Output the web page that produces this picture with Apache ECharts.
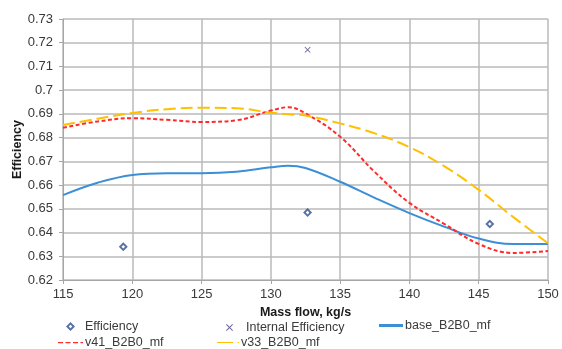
<!DOCTYPE html>
<html>
<head>
<meta charset="utf-8">
<script src="https://cdn.jsdelivr.net/npm/echarts@6/dist/echarts.min.js"></script>
<style>
  html, body { margin: 0; padding: 0; background: #fff; }
  #chart { width: 562px; height: 349px; }
</style>
</head>
<body>
<div id="chart"></div>
<script>
const massFlow = [115, 117.5, 120, 122.5, 125, 127.5, 130, 131.25, 132.5, 135, 137.5, 140, 142.5, 145, 147.5, 150];
const baseB2B0 = [0.6558, 0.661, 0.6643, 0.665, 0.665, 0.6656, 0.6675, 0.6682, 0.6672, 0.6614, 0.6546, 0.6482, 0.6425, 0.6375, 0.6352, 0.6352];
const v41B2B0 = [0.6842, 0.6868, 0.6882, 0.6875, 0.6866, 0.6873, 0.6914, 0.6928, 0.6902, 0.6804, 0.6655, 0.6525, 0.6437, 0.6352, 0.6314, 0.6322];
const v33B2B0 = [0.6853, 0.688, 0.6904, 0.692, 0.6926, 0.6924, 0.6905, 0.6899, 0.6893, 0.686, 0.6818, 0.676, 0.668, 0.658, 0.6465, 0.6355];
const efficiency = [[119.35, 0.634], [132.65, 0.6484], [145.8, 0.6436]];
const internalEfficiency = [[132.65, 0.717]];

const crossPath = "path://M0,1L1,0L5,4L9,0L10,1L6,5L10,9L9,10L5,6L1,10L0,9L4,5Z";
const diamondPath = "path://M5,0L10,5L5,10L0,5ZM5,3L3,5L5,7L7,5Z";
const textColor = "#3a3a3a";
const font = "Liberation Sans, Arial, sans-serif";

function pairs(ys) {
  return massFlow.map((x, i) => [x, ys[i]]);
}

function legendAt(name, left, top, icon, itemWidth, itemHeight, color, gap) {
  return {
    left: left,
    top: top,
    itemWidth: itemWidth,
    itemHeight: itemHeight,
    itemGap: 4,
    padding: 0,
    textStyle: { color: textColor, fontSize: 12.5, fontFamily: font, padding: [0, 0, 0, gap] },
    data: [{ name: name, icon: icon, itemStyle: { color: color, borderWidth: 0 } }],
  };
}

const chart = echarts.init(document.getElementById("chart"));
chart.setOption({
  animation: false,
  grid: { left: 63, right: 14, top: 19, bottom: 69, outerBoundsMode: "none" },
  legend: [
    legendAt("Efficiency", 66, 320, diamondPath, 9, 9, "#2f4f8f", 5),
    legendAt("Internal Efficiency", 226, 321, crossPath, 7, 7, "#4a3f80", 8),
    legendAt("base_B2B0_mf", 379, 319, "rect", 24, 3, "#3a8fd6", -3),
    legendAt("v41_B2B0_mf", 58, 336, "path://M0,0H4V1H0ZM6,0H10V1H6ZM12,0H16V1H12ZM18,0H20V1H18Z", 25, 3, "#ff2a2a", -3),
    legendAt("v33_B2B0_mf", 217, 336, "path://M0,0H14V1H0ZM18,0H19V1H18Z", 22, 3, "#ffc000", -3),
  ],
  xAxis: {
    type: "value",
    min: 115,
    max: 150,
    interval: 5,
    name: "Mass flow, kg/s",
    nameLocation: "middle",
    nameGap: 26,
    nameTextStyle: { color: "#1a1a1a", fontSize: 12.5, fontWeight: "bold", fontFamily: font },
    axisLine: { show: true, lineStyle: { color: "#a6a6a6", width: 1 } },
    axisTick: { show: true, length: 4, lineStyle: { color: "#a6a6a6" } },
    axisLabel: { color: textColor, fontSize: 13, fontFamily: font, margin: 8 },
    splitLine: { show: true, lineStyle: { color: "#bababa", width: 1.5 } },
  },
  yAxis: {
    type: "value",
    min: 0.62,
    max: 0.73,
    interval: 0.01,
    name: "Efficiency",
    nameLocation: "middle",
    nameGap: 39,
    nameMoveOverlap: false,
    nameTextStyle: { color: "#1a1a1a", fontSize: 12.5, fontWeight: "bold", fontFamily: font },
    axisLine: { show: true, lineStyle: { color: "#a6a6a6", width: 1 } },
    axisTick: { show: true, length: 4, lineStyle: { color: "#a6a6a6" } },
    axisLabel: {
      color: textColor,
      fontSize: 13,
      fontFamily: font,
      margin: 10,
      formatter: (v) => String(+v.toFixed(2)),
    },
    splitLine: { show: true, lineStyle: { color: "#bababa", width: 1.5 } },
  },
  series: [
    {
      name: "Efficiency",
      type: "scatter",
      symbol: diamondPath,
      symbolSize: 9,
      itemStyle: { color: "#2f4f8f" },
      data: efficiency,
      z: 5,
    },
    {
      name: "Internal Efficiency",
      type: "scatter",
      symbol: crossPath,
      symbolSize: 6,
      itemStyle: { color: "#4a3f80" },
      data: internalEfficiency,
      z: 5,
    },
    {
      name: "base_B2B0_mf",
      type: "line",
      smooth: 0.4,
      showSymbol: false,
      lineStyle: { color: "#3a8fd6", width: 2 },
      itemStyle: { color: "#3a8fd6" },
      data: pairs(baseB2B0),
    },
    {
      name: "v41_B2B0_mf",
      type: "line",
      smooth: 0.4,
      showSymbol: false,
      lineStyle: { color: "#ff2a2a", width: 2, type: [4, 2.5] },
      itemStyle: { color: "#ff2a2a" },
      data: pairs(v41B2B0),
    },
    {
      name: "v33_B2B0_mf",
      type: "line",
      smooth: 0.4,
      showSymbol: false,
      lineStyle: { color: "#ffc000", width: 2, type: [12, 5] },
      itemStyle: { color: "#ffc000" },
      data: pairs(v33B2B0),
    },
  ],
});
</script>
</body>
</html>
